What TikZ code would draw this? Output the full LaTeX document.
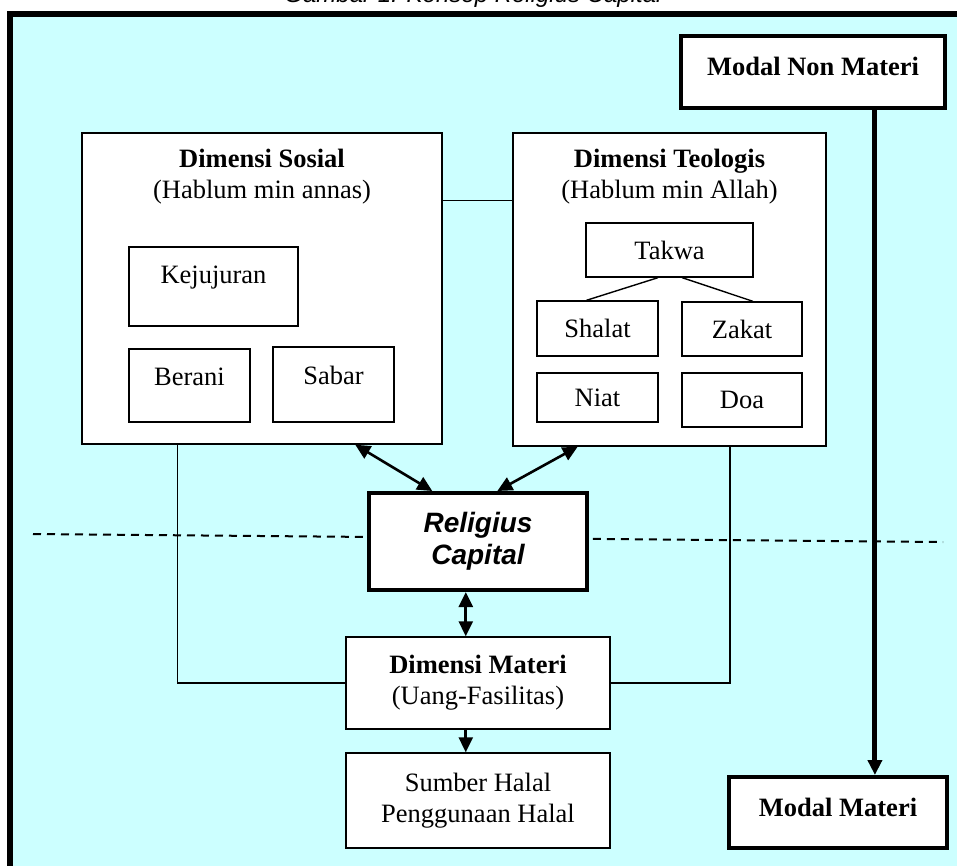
\documentclass[tikz,border=0pt]{standalone}
\usepackage{fontspec}
\setmainfont{Liberation Serif}
\setsansfont{Liberation Sans}
\usetikzlibrary{arrows.meta,calc}
\definecolor{bgcyan}{HTML}{CCFFFF}

\begin{document}
\begin{tikzpicture}[
    x=0.5pt, y=-0.5pt,
    font=\fontsize{13.25}{15.5}\selectfont,
    wh/.style 2 args={minimum width=#1*0.5pt, minimum height=#2*0.5pt},
    box/.style={
        draw,
        fill=white,
        line width=0.7pt,
        align=center,
        inner sep=0pt
    },
    heavybox/.style={box, line width=2pt},
    heading/.style={align=center, inner sep=0pt},
    line/.style={line width=0.7pt},
    twoway/.style={{Triangle[length=7.5pt,width=7pt]}-{Triangle[length=7.5pt,width=7pt]}, line width=1.3pt},
    oneway/.style={-{Triangle[length=7.5pt,width=7pt]}, line width=1.3pt}
]
\useasboundingbox (0,0) rectangle (957,866);

% ---- Frame and caption ----
\path[fill=bgcyan, draw, line width=2.6pt] (10,14) rectangle (985,895);
\node[anchor=base, font=\sffamily\itshape\fontsize{12}{14}\selectfont] (caption) at (473,3) {Gambar 1. Konsep Religius Capital};

% ---- Divider ----
\coordinate (cutL) at (33,534);
\coordinate (cutR) at (943,542);
\draw[line width=1pt, dash pattern=on 4pt off 3pt] (cutL) -- (cutR);

% ---- Dimensi Sosial ----
\node[box, wh={360}{311}] (sosial) at (262,288.5) {};
\node[heading] (sosialT) at (262,177) {\textbf{Dimensi Sosial}\\(Hablum min annas)};
\node[box, wh={169}{79}, text depth=11.5pt] (jujur) at (213.5,286.5) {Kejujuran};
\node[box, wh={121}{73}, text depth=8.5pt] (berani) at (189.5,385.5) {Berani};
\node[box, wh={121}{75}, text depth=9.5pt] (sabar) at (333.5,384.5) {Sabar};

% ---- Dimensi Teologis ----
\node[box, wh={313}{313}] (teologis) at (669.5,289.5) {};
\node[heading] (teologisT) at (669.5,177) {\textbf{Dimensi Teologis}\\(Hablum min Allah)};
\node[box, wh={167}{54}] (takwa) at (669.5,250) {Takwa};
\node[box, wh={121}{55}] (shalat) at (597.5,328.5) {Shalat};
\node[box, wh={120}{54}] (zakat) at (742,329) {Zakat};
\node[box, wh={121}{49}] (niat) at (597.5,397.5) {Niat};
\node[box, wh={120}{54}] (doa) at (742,400) {Doa};

% ---- Centre column ----
\node[heavybox, wh={218}{97}, font=\sffamily\bfseries\itshape\fontsize{14}{16}\selectfont] (capital) at (478,541.5) {Religius\\Capital};
\node[box, wh={264}{92}] (materi) at (478,683) {\textbf{Dimensi Materi}\\(Uang-Fasilitas)};
\node[box, wh={264}{95}] (halal) at (478,800.5) {Sumber Halal\\Penggunaan Halal};

% ---- Modal ----
\node[heavybox, wh={264}{72}, text depth=5.5pt] (nonmateri) at (813,72) {\textbf{Modal Non Materi}};
\node[heavybox, wh={218}{71}, text depth=5.5pt] (modal) at (838,812.5) {\textbf{Modal Materi}};

% ---- Connections ----
\draw[line] ($(sosial.north east)!0.219!(sosial.south east)$) coordinate (link)
    -- (link -| teologis.west);
\draw[line] ($(takwa.south west)!0.431!(takwa.south east)$) -- ($(shalat.north west)!0.41!(shalat.north east)$);
\draw[line] ($(takwa.south west)!0.575!(takwa.south east)$) -- ($(zakat.north west)!0.59!(zakat.north east)$);

\draw[twoway] ($(sosial.south west)!0.758!(sosial.south east)$) -- ($(capital.north west)!0.294!(capital.north east)$);
\draw[twoway] ($(teologis.south west)!0.208!(teologis.south east)$) -- ($(capital.north west)!0.587!(capital.north east)$);

\draw[line] ($(sosial.south west)!0.267!(sosial.south east)$) |- (materi.west);
\draw[line] ($(teologis.south west)!0.693!(teologis.south east)$) |- (materi.east);

\draw[twoway] ($(capital.south west)!0.445!(capital.south east)$) coordinate (spine)
    -- (spine |- materi.north);
\draw[oneway] (spine |- materi.south) -- (spine |- halal.north);

\draw[oneway, line width=2.5pt] ($(nonmateri.south west)!0.731!(nonmateri.south east)$) coordinate (drop)
    -- (drop |- modal.north);

\end{tikzpicture}
\end{document}
